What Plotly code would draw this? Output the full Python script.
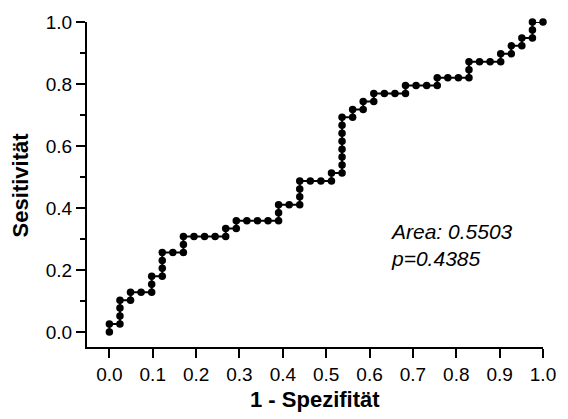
import plotly.graph_objects as go

# ROC curve: counts of false positives (of 41 negatives)
# and true positives (of 39 positives) at each threshold step
n_neg = 41
n_pos = 39
fp_counts = [0, 0, 1, 1, 1, 1, 2, 2, 3, 4, 4, 4, 5, 5, 5, 5, 6, 7, 7, 7, 8, 9, 10, 11, 11, 12,
             12, 13, 14, 15, 16, 16, 16, 17, 18, 18, 18, 18, 19, 20, 21, 21, 22, 22, 22, 22,
             22, 22, 22, 22, 23, 23, 24, 24, 25, 25, 26, 27, 28, 28, 29, 30, 31, 31, 32, 33,
             34, 34, 34, 35, 36, 37, 37, 38, 38, 39, 39, 40, 40, 40, 41]
tp_counts = [0, 1, 1, 2, 3, 4, 4, 5, 5, 5, 6, 7, 7, 8, 9, 10, 10, 10, 11, 12, 12, 12, 12, 12, 13, 13,
             14, 14, 14, 14, 14, 15, 16, 16, 16, 17, 18, 19, 19, 19, 19, 20, 20, 21, 22, 23,
             24, 25, 26, 27, 27, 28, 28, 29, 29, 30, 30, 30, 30, 31, 31, 31, 31, 32, 32, 32,
             32, 33, 34, 34, 34, 34, 35, 35, 36, 36, 37, 37, 38, 39, 39]

x_ticks = [0.0, 0.1, 0.2, 0.3, 0.4, 0.5, 0.6, 0.7, 0.8, 0.9, 1.0]
y_ticks = [0.0, 0.2, 0.4, 0.6, 0.8, 1.0]
area_text = "Area: 0.5503"
p_text = "p=0.4385"

fpr = [c / n_neg for c in fp_counts]
tpr = [c / n_pos for c in tp_counts]

fig = go.Figure()
fig.add_trace(go.Scatter(
    x=fpr, y=tpr, mode="lines+markers",
    line=dict(color="black", width=2),
    marker=dict(color="black", size=7.5),
    cliponaxis=False, showlegend=False, hoverinfo="skip",
))

font_family = "Liberation Sans, Arial, sans-serif"

fig.update_layout(
    width=568, height=419,
    margin=dict(l=87, r=18, t=17, b=72),
    paper_bgcolor="white", plot_bgcolor="white",
    font=dict(family=font_family, color="black"),
    xaxis=dict(
        range=[-0.0516, 1.0], tickvals=x_ticks, ticktext=[f"{v:.1f}" for v in x_ticks],
        showgrid=False, zeroline=False, showline=True, linecolor="black", linewidth=2,
        ticks="outside", ticklen=9, tickwidth=2, tickcolor="black",
        tickfont=dict(size=19, family=font_family, color="black"),
    ),
    yaxis=dict(
        range=[-0.0486, 1.0], tickvals=y_ticks, ticktext=[f"{v:.1f}" for v in y_ticks],
        showgrid=False, zeroline=False, showline=True, linecolor="black", linewidth=2,
        ticks="outside", ticklen=9, tickwidth=2, tickcolor="black",
        tickfont=dict(size=19, family=font_family, color="black"),
        minor=dict(dtick=0.1, tick0=0, ticks="outside", ticklen=5, tickwidth=2, tickcolor="black"),
    ),
    annotations=[
        dict(text="<b>1 - Spezifität</b>", xref="paper", yref="paper", x=0.5, y=-0.16,
             xanchor="center", yanchor="middle", showarrow=False,
             font=dict(size=22, family=font_family, color="black")),
        dict(text="<b>Sesitivität</b>", xref="paper", yref="paper", x=-0.145, y=0.5,
             xanchor="center", yanchor="middle", textangle=-90, showarrow=False,
             font=dict(size=22, family=font_family, color="black")),
        dict(text=f"<i>{area_text}<br>{p_text}</i>", xref="x", yref="y", x=0.643, y=0.28,
             xanchor="left", yanchor="middle", align="left", showarrow=False,
             font=dict(size=21, family=font_family, color="black")),
    ],
)

fig.write_html("out.html")
